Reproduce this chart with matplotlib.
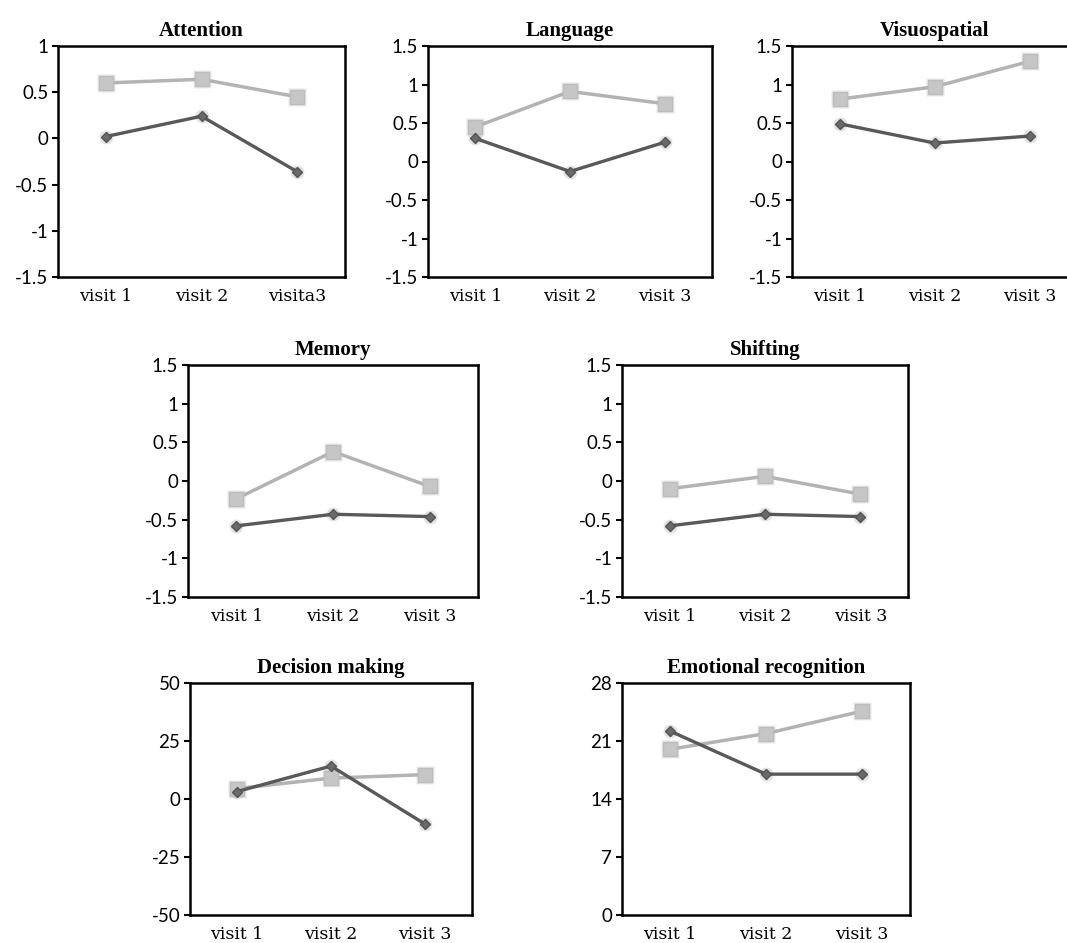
import numpy as np
import matplotlib
matplotlib.use('Agg')
import matplotlib.pyplot as plt

# -------------------------------------------
# data

visits = ['visit 1', 'visit 2', 'visit 3']
visits_attention = ['visit 1', 'visit 2', 'visita3']

attention_light = [0.60, 0.64, 0.45]
attention_dark = [0.02, 0.24, -0.36]

language_light = [0.45, 0.91, 0.75]
language_dark = [0.30, -0.13, 0.25]

visuo_light = [0.81, 0.97, 1.30]
visuo_dark = [0.49, 0.24, 0.33]

memory_light = [-0.23, 0.38, -0.07]
memory_dark = [-0.58, -0.43, -0.46]

shifting_light = [-0.10, 0.06, -0.17]
shifting_dark = [-0.58, -0.43, -0.46]

decision_light = [4.5, 9.0, 10.5]
decision_dark = [3.2, 14.2, -10.8]

emotion_light = [20.0, 21.9, 24.6]
emotion_dark = [22.2, 17.0, 17.0]

ticks_att = [1, 0.5, 0, -0.5, -1, -1.5]
ticks_std = [1.5, 1, 0.5, 0, -0.5, -1, -1.5]
ticks_dec = [50, 25, 0, -25, -50]
ticks_emo = [28, 21, 14, 7, 0]

# -------------------------------------------

W, H = 1067, 943
fig = plt.figure(figsize=(W / 100, H / 100), dpi=100)

def box(left, top, right, bottom):
    return [left / W, 1 - bottom / H, (right - left) / W, (bottom - top) / H]

def fmt(v):
    return '%g' % v

def panel(rect, title, light, dark, yticks, xlabels):
    ax = fig.add_axes(rect)
    x = np.arange(len(xlabels))
    # soft glow behind the markers
    ax.plot(x, light, ls='none', marker='s', ms=13, mfc='#d8d8d8', mec='none', alpha=0.6, zorder=2)
    ax.plot(x, dark, ls='none', marker='o', ms=10, mfc='#d0d0d0', mec='none', alpha=0.6, zorder=2)
    ax.plot(x, light, color='#b3b3b3', lw=2.5, marker='s', ms=9.5,
            mfc='#c6c6c6', mec='#bdbdbd', zorder=3)
    ax.plot(x, dark, color='#595959', lw=2.4, marker='D', ms=5.5,
            mfc='#6a6a6a', mec='#555555', zorder=4)
    ax.set_xlim(-0.5, len(xlabels) - 0.5)
    ax.set_ylim(min(yticks), max(yticks))
    ax.set_yticks(yticks)
    ax.set_yticklabels([fmt(v) for v in yticks], family='Lato', fontsize=13.5)
    ax.set_xticks(x)
    ax.set_xticklabels(xlabels, family='DejaVu Serif', fontsize=12.5)
    ax.tick_params(axis='x', length=0, pad=8)
    ax.tick_params(axis='y', length=4, width=1.5, direction='out', pad=3)
    for s in ax.spines.values():
        s.set_linewidth(1.8)
        s.set_color('black')
    ax.set_title(title, family='Liberation Serif', fontweight='bold', fontsize=15, pad=7)
    return ax

panel(box(58, 46, 345, 277), 'Attention', attention_light, attention_dark, ticks_att, visits_attention)
panel(box(428, 46, 712, 277), 'Language', language_light, language_dark, ticks_std, visits)
panel(box(792, 46, 1077, 277), 'Visuospatial', visuo_light, visuo_dark, ticks_std, visits)

panel(box(188, 365, 478, 597), 'Memory', memory_light, memory_dark, ticks_std, visits)
panel(box(622, 365, 908, 597), 'Shifting', shifting_light, shifting_dark, ticks_std, visits)

panel(box(190, 683, 472, 915), 'Decision making', decision_light, decision_dark, ticks_dec, visits)
panel(box(622, 683, 910, 915), 'Emotional recognition', emotion_light, emotion_dark, ticks_emo, visits)

fig.savefig('out.png', dpi=100)
